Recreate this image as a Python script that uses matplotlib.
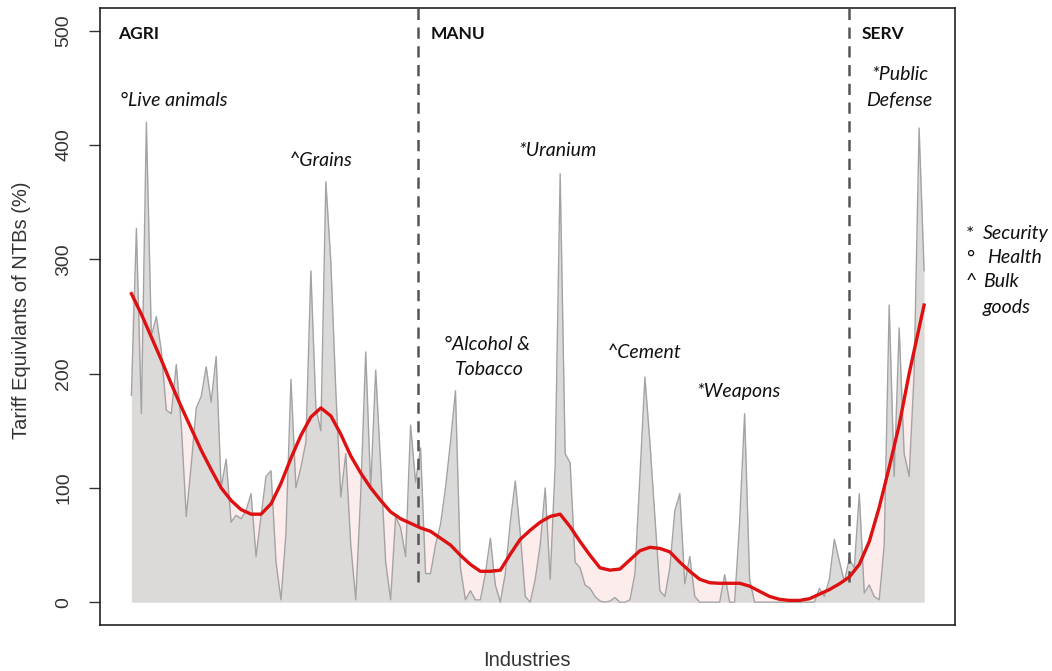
import numpy as np
import matplotlib
matplotlib.use("Agg")
import matplotlib.pyplot as plt

# ---------------- data ----------------
ntb_values = [
    181, 327, 165, 420, 233, 250, 220, 168, 165, 208,
    155, 75, 120, 170, 180, 206, 175, 215, 100, 125,
    70, 76, 73, 80, 95, 40, 75, 110, 115, 35,
    2, 60, 195, 100, 118, 140, 290, 170, 150, 368,
    298, 185, 92, 130, 50, 2, 95, 219, 100, 203,
    120, 35, 2, 75, 65, 40, 155, 105, 135, 25,
    25, 50, 68, 100, 140, 185, 30, 2, 10, 2,
    2, 25, 56, 15, 0, 25, 70, 106, 60, 5,
    0, 20, 50, 100, 20, 120, 375, 130, 122, 35,
    30, 15, 12, 5, 1, 0, 1, 4, 0, 0,
    2, 25, 110, 197, 140, 75, 10, 5, 30, 80,
    95, 16, 40, 5, 0, 0, 0, 0, 0, 24,
    0, 0, 70, 165, 20, 0, 0, 0, 0, 0,
    0, 0, 0, 0, 0, 0, 0, 0, 12, 5,
    20, 55, 36, 18, 38, 30, 95, 8, 15, 5,
    2, 50, 260, 110, 240, 130, 110, 200, 415, 290,
]

smooth_values = [
    270, 252, 232, 212, 191, 171, 152, 133, 116, 100,
    89, 81, 77, 77, 86, 104, 126, 146, 162, 170,
    163, 147, 128, 113, 100, 89, 79, 73, 69, 65,
    62, 56, 50, 41, 33, 27, 27, 28, 42, 55,
    63, 70, 75, 77, 66, 53, 41, 30, 28, 29,
    37, 45, 48, 47, 44, 35, 27, 20, 17, 16.5,
    16.5, 16.5, 14, 9.5, 5, 2.5, 1.5, 1.5, 3, 7,
    11, 16, 22, 33, 53, 83, 118, 155, 200, 240,
    260,
]

sector_names = ["AGRI", "MANU", "SERV"]
sector_breaks = [57.4, 144.0]          # industry index of sector boundaries

y_ticks = [0, 100, 200, 300, 400, 500]

annotations = [
    ("\u00b0Live animals", 120, 101, "left"),
    ("^Grains", 321, 161, "center"),
    ("*Uranium", 558, 150, "center"),
    ("\u00b0Alcohol &", 487, 345, "center"),
    ("Tobacco", 489, 370, "center"),
    ("^Cement", 644, 352, "center"),
    ("*Weapons", 738, 391, "center"),
    ("*Public", 900, 75, "center"),
    ("Defense", 899, 101, "center"),
]
legend_items = [("*", "Security"), ("\u00b0", "Health"), ("^", "Bulk")]

# ---------------- figure ----------------
W, H = 1052, 671
fig = plt.figure(figsize=(W / 100, H / 100), dpi=100)
ax = fig.add_axes([100 / W, 1 - 625 / H, 855 / W, 617 / H])

x = np.arange(len(ntb_values))
x_s = np.array(list(range(0, len(ntb_values), 2)) + [len(ntb_values) - 1])
y = np.array(ntb_values, dtype=float)
ys = np.array(smooth_values, dtype=float)

ax.fill_between(x_s, 0, ys, color="#fcecec", lw=0, zorder=1)
ax.fill_between(x, 0, y, color="#dcdad9", lw=0, zorder=2)
ax.plot(x, y, color="#a3a3a3", lw=1.0, zorder=3)
ax.plot(x_s, ys, color="#dd1111", lw=2.4, zorder=5, solid_joinstyle="round")

for b in sector_breaks:
    ax.plot([b, b], [18, 560], color="#555555", lw=1.8, ls=(0, (4.5, 3)),
            zorder=4, clip_on=True)

ax.set_xlim(-6.3, 165.2)
ax.set_ylim(-20, 520)
ax.set_xticks([])
ax.set_yticks(y_ticks)
ax.set_yticklabels([str(t) for t in y_ticks], rotation=90, va="center",
                   fontsize=14, color="#333333", family="Liberation Sans")
ax.tick_params(axis="y", length=8, width=1.0, pad=12, color="#333333")
for sp in ax.spines.values():
    sp.set_color("#222222")
    sp.set_linewidth(1.2)

def px(xp, yp):
    return xp / W, 1 - yp / H

fig.text(*px(22, 310), "Tariff Equivlants of NTBs (%)", rotation=90,
         ha="center", va="center", fontsize=14.5, color="#333333",
         family="Liberation Sans")
fig.text(*px(527, 660), "Industries", ha="center", va="center",
         fontsize=14.5, color="#333333", family="Liberation Sans")

sector_px = [118, 431, 862]
for name, sx in zip(sector_names, sector_px):
    fig.text(*px(sx, 34), name, ha="left", va="center", fontsize=12.5,
             fontweight="bold", family="Lato", color="#111111")

for txt, xp_, yp_, ha in annotations:
    fig.text(*px(xp_, yp_), txt, ha=ha, va="center", fontsize=14,
             style="italic", family="Lato", color="#111111")

for k, (sym, lab) in enumerate(legend_items):
    yy = 234 + 24 * k
    fig.text(*px(966, yy), sym, ha="left", va="center", fontsize=14,
             family="Lato", color="#111111")
    fig.text(*px(983 if k != 1 else 987, yy), lab, ha="left", va="center",
             fontsize=14, style="italic", family="Lato", color="#111111")
fig.text(*px(983, 307), "goods", ha="left", va="center", fontsize=14,
         style="italic", family="Lato", color="#111111")

fig.savefig("out.png", dpi=100)
